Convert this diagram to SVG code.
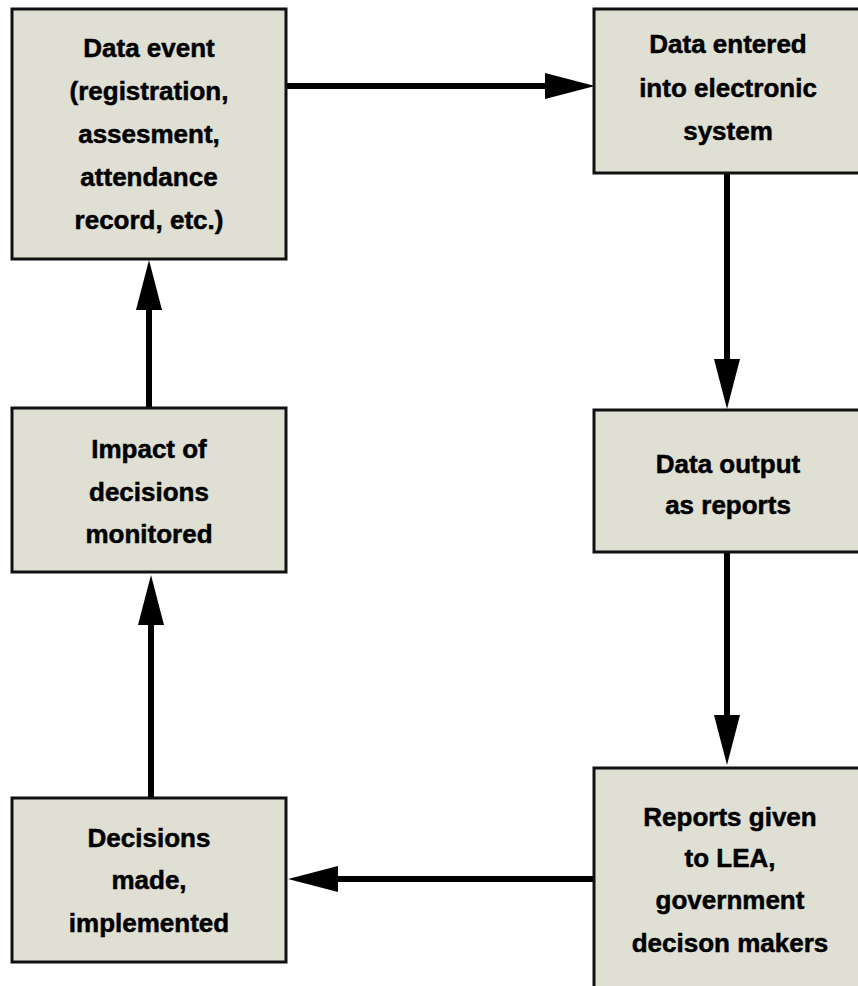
<svg xmlns="http://www.w3.org/2000/svg" width="858" height="986" viewBox="0 0 858 986">
<style>
.box{fill:#dfdfd3;stroke:#111;stroke-width:3}
.t{font-family:"Liberation Sans Narrow","Liberation Sans",Arial,sans-serif;font-weight:bold;font-size:26px;fill:#000;stroke:#000;stroke-width:0.5;text-anchor:middle}
.c{stroke:#000;stroke-width:6;fill:none;marker-end:url(#ah)}
</style>
<defs>
<marker id="ah" viewBox="0 0 50 26" markerWidth="50" markerHeight="26" refX="0" refY="13" orient="auto" markerUnits="userSpaceOnUse">
<path d="M0,0 L50,13 L0,26 Z" fill="#000"/>
</marker>
</defs>
<rect width="858" height="986" fill="#fff"/>
<g id="connectors">
<path class="c" d="M286,86 H545"/>
<path class="c" d="M727,173 V359"/>
<path class="c" d="M727,552 V715"/>
<path class="c" d="M594,879 H338"/>
<path class="c" d="M151,798 V625"/>
<path class="c" d="M149,408 V310"/>
</g>
<g id="n1">
<rect class="box" x="12" y="9" width="274" height="250"/>
<text class="t" x="149"><tspan x="149" y="57">Data event</tspan><tspan x="149" y="100">(registration,</tspan><tspan x="149" y="143">assesment,</tspan><tspan x="149" y="186">attendance</tspan><tspan x="149" y="229">record, etc.)</tspan></text>
</g>
<g id="n2">
<rect class="box" x="594" y="9" width="268" height="164"/>
<text class="t"><tspan x="728" y="53">Data entered</tspan><tspan x="728" y="97">into electronic</tspan><tspan x="728" y="140">system</tspan></text>
</g>
<g id="n3">
<rect class="box" x="594" y="410" width="268" height="142"/>
<text class="t"><tspan x="728" y="473">Data output</tspan><tspan x="728" y="514">as reports</tspan></text>
</g>
<g id="n4">
<rect class="box" x="594" y="768" width="272" height="230"/>
<text class="t"><tspan x="730" y="826">Reports given</tspan><tspan x="730" y="867">to LEA,</tspan><tspan x="730" y="909">government</tspan><tspan x="730" y="952">decison makers</tspan></text>
</g>
<g id="n5">
<rect class="box" x="12" y="798" width="274" height="164"/>
<text class="t"><tspan x="149" y="847">Decisions</tspan><tspan x="149" y="889">made,</tspan><tspan x="149" y="932">implemented</tspan></text>
</g>
<g id="n6">
<rect class="box" x="12" y="408" width="274" height="164"/>
<text class="t"><tspan x="149" y="458">Impact of</tspan><tspan x="149" y="501">decisions</tspan><tspan x="149" y="543">monitored</tspan></text>
</g>
</svg>
